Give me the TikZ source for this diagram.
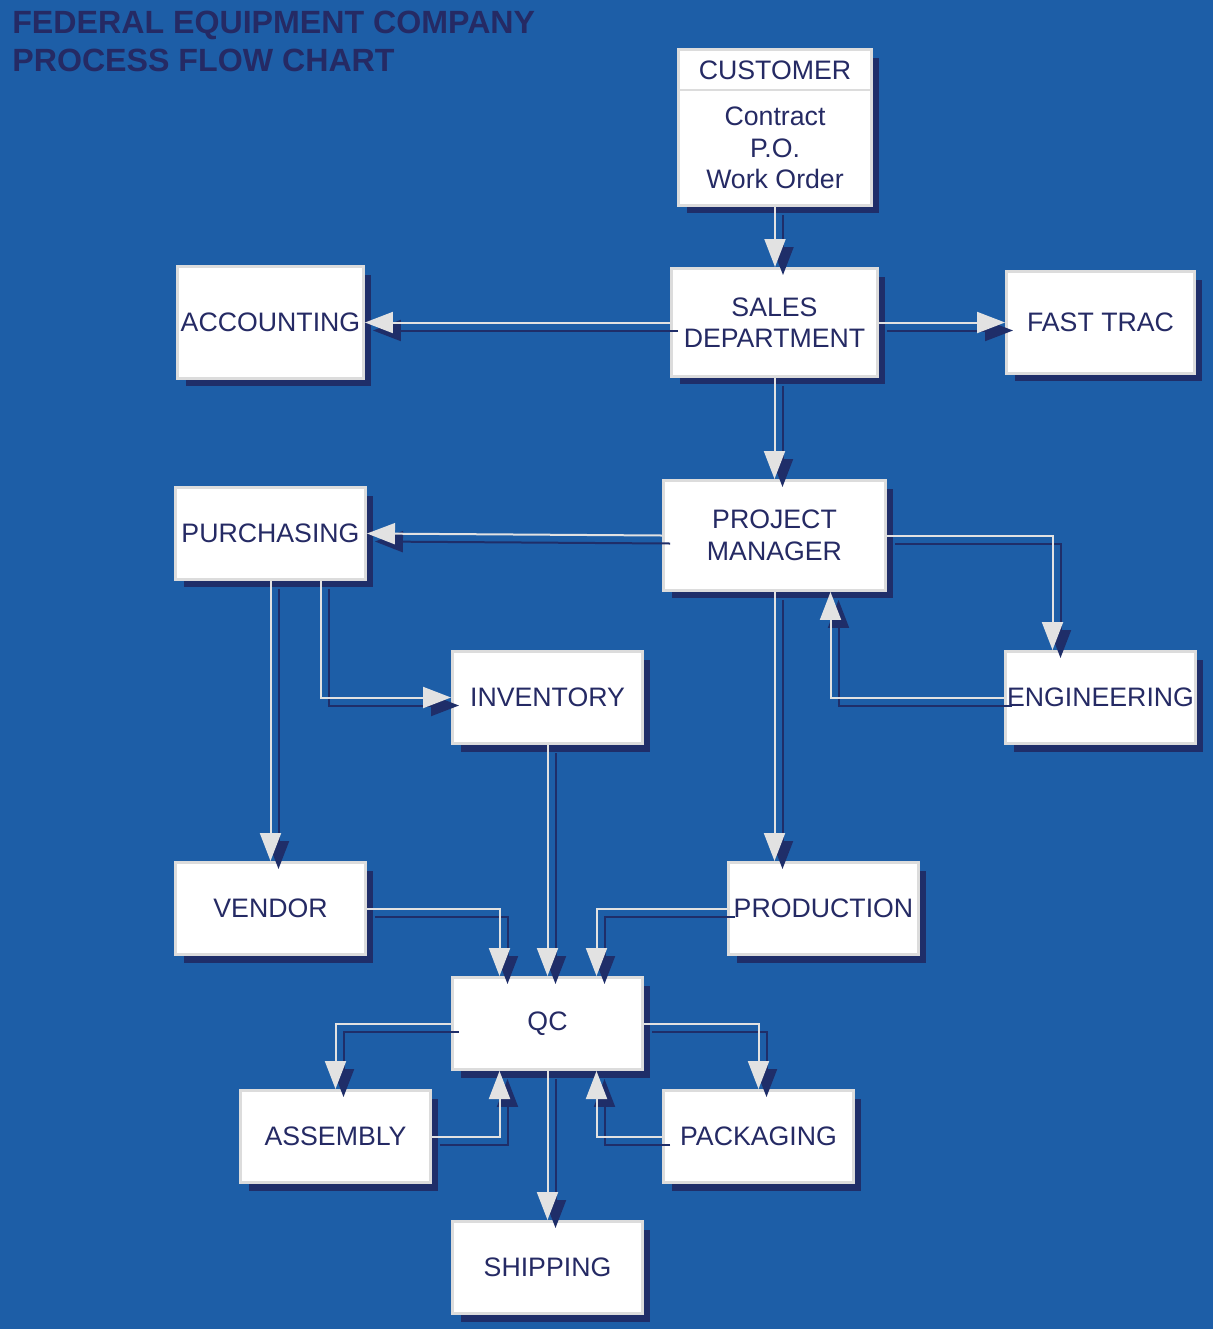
\documentclass[tikz,border=0pt]{standalone}
\usepackage{fontspec}
\setmainfont{Liberation Sans}
\usetikzlibrary{arrows.meta,shadows,calc}

\definecolor{backblue}{RGB}{29,94,167}
\definecolor{inkblue}{RGB}{37,42,100}
\definecolor{shadeblue}{RGB}{31,46,105}
\definecolor{rimgray}{RGB}{220,220,220}
\definecolor{linegray}{RGB}{226,226,226}

% each connector is drawn twice: its shadow, then the line itself
\newcommand{\flow}[1]{%
  \draw[flowshade] #1;
  \draw[flowline] #1;}

\begin{document}
\begin{tikzpicture}[
        x=0.02cm, y=-0.02cm,
        box/.style={rectangle, draw=rimgray, line width=0.06cm, fill=white, minimum width=3.8cm, minimum height=1.84cm, inner sep=0pt, align=center, text=inkblue, font=\fontsize{15.2}{18}\selectfont, general shadow={fill=shadeblue, shadow xshift=0.16cm, shadow yshift=-0.16cm}},
        label/.style={inner sep=0pt, align=center, text=inkblue, font=\fontsize{15.2}{18}\selectfont},
        flowline/.style={draw=linegray, line width=0.04cm, -{Triangle[length=0.56cm, width=0.42cm, fill=linegray]}},
        flowshade/.style={draw=shadeblue, line width=0.04cm, -{Triangle[length=0.56cm, width=0.42cm, fill=shadeblue]}, transform canvas={xshift=0.16cm, yshift=-0.16cm}}
        ]
        \useasboundingbox (0,0) rectangle (1213,1329);
        \fill[backblue] (0,0) rectangle (1213,1329);

        \node[anchor=north west, inner sep=0pt, align=left, text=inkblue, font=\bfseries\fontsize{18.3}{21.2}\selectfont] (title) at (12,11) {FEDERAL EQUIPMENT COMPANY\\PROCESS FLOW CHART};

        % boxes
        \node[box, minimum width=3.86cm, minimum height=3.12cm] (customer) at (775,127.5) {};
        \draw[rimgray, line width=0.04cm] (680,90) -- (870,90);
        \node[label] (customertitle) at (775,70) {CUSTOMER};
        \node[label] (customerbody) at (775,148) {Contract\\P.O.\\Work Order};

        \node[box, minimum width=4.12cm, minimum height=2.16cm] (sales) at (774.5,322.5) {SALES\\DEPARTMENT};
        \node[box, minimum width=3.72cm, minimum height=2.24cm] (accounting) at (270.5,322.5) {ACCOUNTING};
        \node[box, minimum width=3.76cm, minimum height=2.04cm] (fasttrac) at (1100.5,322.5) {FAST TRAC};
        \node[box, minimum width=4.44cm, minimum height=2.2cm] (pm) at (774.5,535.5) {PROJECT\\MANAGER};
        \node[box] (purchasing) at (270.5,533.5) {PURCHASING};
        \node[box] (inventory) at (547.5,697.5) {INVENTORY};
        \node[box] (engineering) at (1100.5,697.5) {ENGINEERING};
        \node[box] (vendor) at (270.5,908.5) {VENDOR};
        \node[box] (production) at (823.5,908.5) {PRODUCTION};
        \node[box] (qc) at (547.5,1023.5) {QC};
        \node[box] (assembly) at (335.5,1136.5) {ASSEMBLY};
        \node[box] (packaging) at (758.5,1136.5) {PACKAGING};
        \node[box] (shipping) at (547.5,1267.5) {SHIPPING};

        % connectors
        \flow{(customer.south) -- (customer.south |- sales.north)}
        \flow{(sales.west) -- (accounting.east)}
        \flow{(sales.east) -- (fasttrac.west)}
        \flow{(sales.south) -- (pm.north)}
        \flow{(pm.west) -- (purchasing.east)}
        \flow{(pm.east) -| ($(engineering.north)+(-48,0)$)}
        \flow{(engineering.west) -| ($(pm.south)+(56,0)$)}
        \flow{(pm.south) -- (pm.south |- production.north)}
        \flow{(purchasing.south) -- (vendor.north)}
        \flow{($(purchasing.south)+(50,0)$) |- (inventory.west)}
        \flow{(inventory.south) -- (qc.north)}
        \flow{(vendor.east) -| ($(qc.north)+(-48,0)$)}
        \flow{(production.west) -| ($(qc.north)+(49,0)$)}
        \flow{(qc.west) -| (assembly.north)}
        \flow{(assembly.east) -| ($(qc.south)+(-48,0)$)}
        \flow{(qc.east) -| (packaging.north)}
        \flow{(packaging.west) -| ($(qc.south)+(49,0)$)}
        \flow{(qc.south) -- (shipping.north)}
    \end{tikzpicture}
\end{document}
